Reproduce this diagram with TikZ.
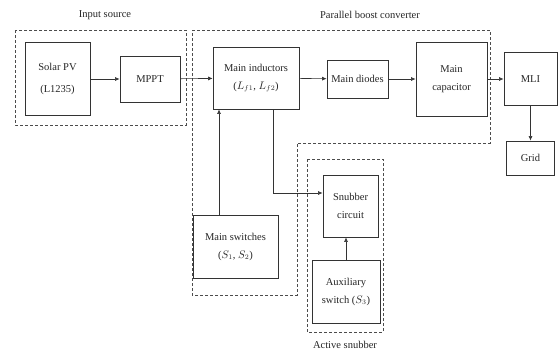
\documentclass[tikz,border=0pt]{standalone}
\usepackage{fontspec}
\setmainfont{Liberation Serif}
\usepackage{tikz}
\usetikzlibrary{arrows.meta}
\tikzset{
  blk/.style={draw=black!80,thick,align=center,inner sep=1pt,font=\fontsize{10.5}{18}\selectfont,text=black!85},
  grp/.style={draw=black!70,thick,dash pattern=on 3pt off 2pt},
  lbl/.style={font=\fontsize{10.5}{12}\selectfont,text=black!85},
  arr/.style={draw=black!80,semithick,-{Latex[length=4.5pt,width=4pt]}}
}

\begin{document}
\begin{tikzpicture}[x=1pt,y=-1pt]
\useasboundingbox (0,0) rectangle (560,354);
\draw[grp] (15,30) rectangle (186,125);
\draw[grp] (192,30) -- (490,30) -- (490,143) -- (297,143) -- (297,295) -- (192,295) -- cycle;
\draw[grp] (307,159) rectangle (383,332);
\node[lbl] (insrc) at (105,15) {Input source};
\node[lbl] (pbc) at (370,15) {Parallel boost converter};
\node[lbl] (asn) at (345,345) {Active snubber};
\node[blk,minimum width=65,minimum height=73] (pv) at (57.5,79) {Solar PV\\[4pt](L1235)};
\node[blk,minimum width=60,minimum height=46] (mppt) at (150,79) {MPPT};
\node[blk,minimum width=86,minimum height=62] (ind) at (256,78) {Main inductors\\($L_{f1}$, $L_{f2}$)};
\node[blk,minimum width=61,minimum height=38] (diode) at (357.5,79) {Main diodes};
\node[blk,minimum width=71,minimum height=74] (cap) at (451.5,79) {Main\\capacitor};
\node[blk,minimum width=53,minimum height=53] (mli) at (530.5,79) {MLI};
\node[blk,minimum width=48,minimum height=34] (grid) at (530.5,158) {Grid};
\node[blk,minimum width=85,minimum height=63] (sw) at (235.5,246.5) {Main switches\\($S_1$, $S_2$)};
\node[blk,minimum width=55,minimum height=62] (snub) at (350.5,206) {Snubber\\circuit};
\node[blk,minimum width=68,minimum height=63] (aux) at (346,291.5) {Auxiliary\\switch ($S_3$)};
\coordinate (swx) at (219,0);
\coordinate (tap) at (273,0);
\coordinate (auxx) at (346,0);
\draw[arr] (pv) -- (mppt);
\draw[arr] (mppt) -- (ind);
\draw[arr] (ind) -- (diode);
\draw[arr] (diode) -- (cap);
\draw[arr] (cap) -- (mli);
\draw[arr] (mli) -- (grid);
\draw[arr] (swx |- sw.north) -- (swx |- ind.south);
\draw[arr] (tap |- ind.south) |- ([yshift=13pt]snub.west);
\draw[arr] (auxx |- aux.north) -- (auxx |- snub.south);
\end{tikzpicture}
\end{document}
